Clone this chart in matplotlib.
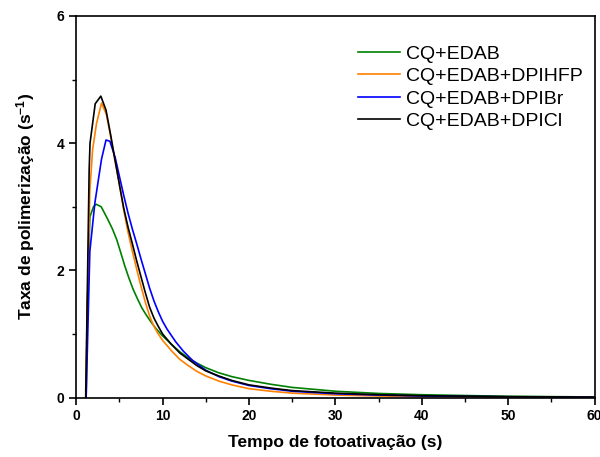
import matplotlib
matplotlib.use("Agg")
import matplotlib.pyplot as plt
from matplotlib.ticker import MultipleLocator

plt.rcParams['font.family'] = ['Liberation Sans', 'DejaVu Sans']
plt.rcParams['font.weight'] = 'bold'
plt.rcParams['mathtext.fontset'] = 'custom'
plt.rcParams['mathtext.rm'] = 'Liberation Sans:bold'
plt.rcParams['mathtext.default'] = 'rm'

# Data
t_green = [1.15, 1.3, 1.58, 2.0, 2.3, 2.9, 3.7, 4.2, 4.7, 5.2, 5.6, 6.1, 6.6, 7.1, 7.6, 8.1, 8.6, 9.2, 10, 11, 12, 13, 14, 15,
           16.5, 18, 20, 22.5, 25, 30, 35, 40, 50, 60]
v_green = [0.0, 1.5, 2.84, 3.0, 3.04, 3.0, 2.79, 2.65, 2.48, 2.26, 2.08, 1.88, 1.7, 1.55, 1.41, 1.3, 1.2, 1.09, 0.97, 0.84, 0.72, 0.62, 0.54, 0.47,
           0.39, 0.33, 0.27, 0.21, 0.16, 0.10, 0.065, 0.045, 0.02, 0.01]

t_orange = [1.1, 1.58, 1.9, 2.35, 2.93, 3.5, 4.0, 4.5, 5.0, 5.5, 6.0, 6.5, 7.0, 7.5, 8.0, 8.5, 9.0, 9.5, 10, 11, 12, 13, 14, 15,
            16.5, 18, 20, 22.5, 25, 30, 35, 40, 50, 60]
v_orange = [0.1, 3.26, 3.9, 4.31, 4.63, 4.45, 4.1, 3.72, 3.35, 2.95, 2.6, 2.3, 2.02, 1.75, 1.5, 1.28, 1.12, 1.0, 0.9, 0.74, 0.6, 0.5, 0.41, 0.34,
            0.26, 0.2, 0.14, 0.1, 0.07, 0.04, 0.025, 0.015, 0.008, 0.005]

t_blue = [1.15, 1.58, 2.16, 2.93, 3.45, 3.9, 4.5, 5.0, 5.5, 6.0, 6.5, 7.0, 7.5, 8.0, 8.5, 9.0, 9.5, 10, 10.5, 11.5, 12.4, 13.5, 15,
          16.5, 18, 20, 22.5, 25, 30, 35, 40, 50, 60]
v_blue = [0.0, 2.3, 3.06, 3.75, 4.05, 4.03, 3.78, 3.48, 3.18, 2.9, 2.65, 2.42, 2.18, 1.95, 1.72, 1.52, 1.35, 1.2, 1.08, 0.88, 0.73, 0.58, 0.43,
          0.33, 0.26, 0.19, 0.14, 0.10, 0.06, 0.04, 0.025, 0.012, 0.006]

t_black = [1.1, 1.5, 1.6, 2.2, 2.85, 3.45, 4.0, 4.5, 5.0, 5.5, 6.0, 6.5, 7.0, 7.5, 8.0, 8.5, 9.0, 9.5, 10, 11, 12, 13, 14, 15,
           16.5, 18, 20, 22.5, 25, 30, 35, 40, 50, 60]
v_black = [0.0, 3.58, 4.0, 4.62, 4.74, 4.52, 4.12, 3.73, 3.35, 2.98, 2.68, 2.42, 2.15, 1.9, 1.65, 1.42, 1.25, 1.12, 1.0, 0.84, 0.7, 0.6, 0.5, 0.42,
           0.34, 0.27, 0.2, 0.15, 0.11, 0.07, 0.045, 0.03, 0.015, 0.008]

labels = ["CQ+EDAB", "CQ+EDAB+DPIHFP", "CQ+EDAB+DPIBr", "CQ+EDAB+DPICl"]

fig = plt.figure(figsize=(6.0, 4.57), dpi=100)
ax = fig.add_axes([0.127, 0.130, 0.864, 0.835])

ax.plot(t_green, v_green, color='#008000', lw=1.2, label=labels[0])
ax.plot(t_orange, v_orange, color='#ff8000', lw=1.2, label=labels[1])
ax.plot(t_blue, v_blue, color='#0000ff', lw=1.2, label=labels[2])
ax.plot(t_black, v_black, color='#000000', lw=1.2, label=labels[3])

ax.set_xlim(0, 60)
ax.set_ylim(0, 6)
ax.xaxis.set_major_locator(MultipleLocator(10))
ax.xaxis.set_minor_locator(MultipleLocator(5))
ax.yaxis.set_major_locator(MultipleLocator(2))
ax.yaxis.set_minor_locator(MultipleLocator(1))
ax.tick_params(which='major', direction='out', length=5, width=1.2, labelsize=10)
ax.tick_params(which='minor', direction='out', length=3, width=1.0)
for s in ax.spines.values():
    s.set_linewidth(1.2)

ax.set_xlabel("Tempo de fotoativação (s)", fontsize=12.5, fontweight='bold', labelpad=8)
ax.set_ylabel("Taxa de polimerização (s$^{-1}$)", fontsize=12.5, fontweight='bold', labelpad=14)

ax.legend(loc='upper left', frameon=False, prop={'size': 14, 'weight': 'normal'},
          handlelength=2.16, handletextpad=0.3, labelspacing=0.25,
          borderaxespad=0, bbox_to_anchor=(0.528, 0.944))

fig.savefig("out.png", dpi=100)
